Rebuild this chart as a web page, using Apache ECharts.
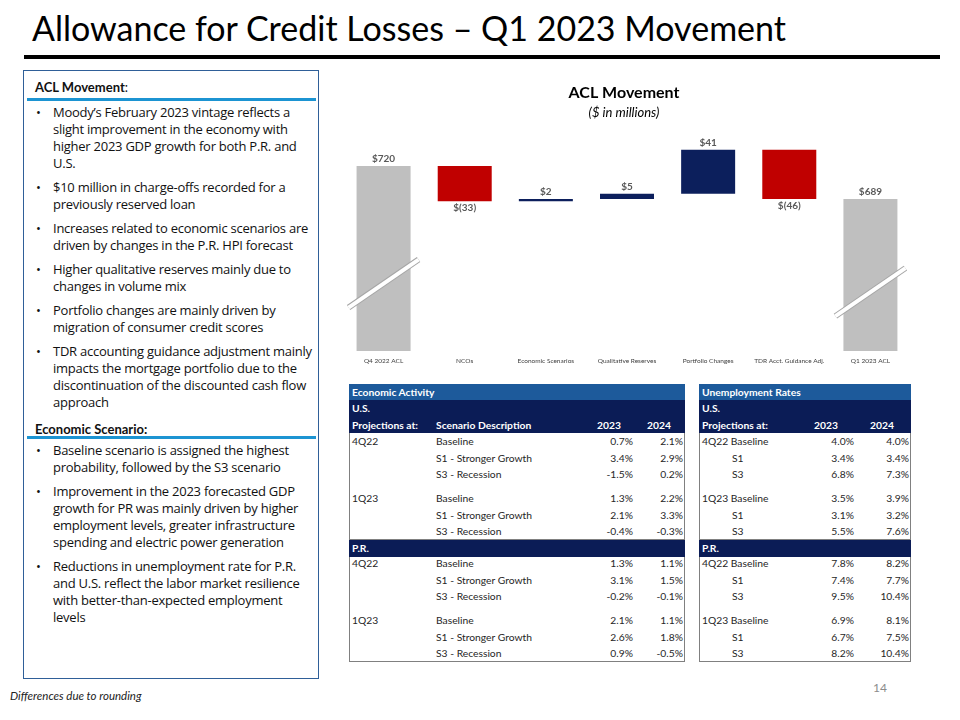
<!DOCTYPE html>
<html>
<head>
<meta charset="utf-8">
<title>ACL Movement</title>
<script src="https://cdn.jsdelivr.net/npm/echarts@6.0.0/dist/echarts.min.js"></script>
<style>
    body { margin: 0; background: #fff; }
    #page { position: relative; width: 960px; height: 720px; overflow: hidden; font-family: Lato, sans-serif; color: #000; }
    .abs { position: absolute; white-space: nowrap; }
    #title { left: 32px; top: 8px; font-size: 34px; line-height: 40px; color: #000; }
    #rule { left: 24px; top: 55px; width: 916px; height: 4px; background: #000; }
    #box { left: 23px; top: 70px; width: 294px; height: 607px; border: 1.5px solid #2f5f98; }
    .hdr { font-weight: bold; font-size: 13px; line-height: 15px; color: #111; }
    .blue { height: 3px; background: #1c94d2; left: 27px; width: 289px; }
    .list { left: 36px; font-family: "Open Sans", sans-serif; font-size: 13px; letter-spacing: -0.25px; line-height: 17px; color: #111; }
    .list p { position: relative; margin: 0 0 7px 0; padding-left: 17px; }
    .list p:before { content: "\2022"; position: absolute; left: 0; top: 0; }
    #acl { left: 330px; top: 70px; width: 600px; height: 310px; }
    .cell { position: absolute; white-space: nowrap; font-size: 10.3px; line-height: 14px; height: 14px; color: #262626; }
    .band { position: absolute; left: 0; right: 0; }
    .band .cell { color: #fff; font-weight: bold; }
    .body { position: absolute; left: 0; right: 0; border: 1px solid #808080; border-top: none; box-sizing: border-box; }
    #pagenum { left: 873px; top: 680px; font-size: 12px; color: #8c8c8c; }
    #foot { left: 10px; top: 689px; font-size: 11.5px; font-style: italic; color: #222; }
</style>
</head>
<body>
<div id="page">
    <div id="title" class="abs">Allowance for Credit Losses – Q1 2023 Movement</div>
    <div id="rule" class="abs"></div>
    <div id="box" class="abs"></div>

    <div class="abs hdr" style="left:35px; top:80px;">ACL Movement<span style="font-weight:normal">:</span></div>
    <div class="abs blue" style="top:98px;"></div>
    <div class="abs list" style="top:104px;">
        <p>Moody’s February 2023 vintage reflects a<br>slight improvement in the economy with<br>higher 2023 GDP growth for both P.R. and<br>U.S.</p>
        <p>$10 million in charge-offs recorded for a<br>previously reserved loan</p>
        <p>Increases related to economic scenarios are<br>driven by changes in the P.R. HPI forecast</p>
        <p>Higher qualitative reserves mainly due to<br>changes in volume mix</p>
        <p>Portfolio changes are mainly driven by<br>migration of consumer credit scores</p>
        <p>TDR accounting guidance adjustment mainly<br>impacts the mortgage portfolio due to the<br>discontinuation of the discounted cash flow<br>approach</p>
    </div>

    <div class="abs hdr" style="left:35px; top:422px;">Economic Scenario:</div>
    <div class="abs blue" style="top:436px;"></div>
    <div class="abs list" style="top:442px;">
        <p>Baseline scenario is assigned the highest<br>probability, followed by the S3 scenario</p>
        <p>Improvement in the 2023 forecasted GDP<br>growth for PR was mainly driven by higher<br>employment levels, greater infrastructure<br>spending and electric power generation</p>
        <p>Reductions in unemployment rate for P.R.<br>and U.S. reflect the labor market resilience<br>with better-than-expected employment<br>levels</p>
    </div>

    <div id="acl" class="abs"></div>
    <div id="econTable" class="abs" style="left:349px; top:384px; width:336px; height:280px;"></div>
    <div id="unempTable" class="abs" style="left:699px; top:384px; width:212px; height:280px;"></div>

    <div id="pagenum" class="abs">14</div>
    <div id="foot" class="abs">Differences due to rounding</div>
</div>

<script>
// waterfall data
var categories = ['Q4 2022 ACL', 'NCOs', 'Economic Scenarios', 'Qualitative Reserves',
    'Portfolio Changes', 'TDR Acct. Guidance Adj.', 'Q1 2023 ACL'];
var movements = [720, -33, 2, 5, 41, -46, 689];
var isTotal = [true, false, false, false, false, false, true];

// table data
var years = ['2023', '2024'];
var vintages = ['4Q22', '1Q23'];
var gdpScenarios = ['Baseline', 'S1 - Stronger Growth', 'S3 - Recession'];
var unempScenarios = ['Baseline', 'S1', 'S3'];
var usGdp2023 = [0.7, 3.4, -1.5, 1.3, 2.1, -0.4];
var usGdp2024 = [2.1, 2.9, 0.2, 2.2, 3.3, -0.3];
var prGdp2023 = [1.3, 3.1, -0.2, 2.1, 2.6, 0.9];
var prGdp2024 = [1.1, 1.5, -0.1, 1.1, 1.8, -0.5];
var usUnemp2023 = [4.0, 3.4, 6.8, 3.5, 3.1, 5.5];
var usUnemp2024 = [4.0, 3.4, 7.3, 3.9, 3.2, 7.6];
var prUnemp2023 = [7.8, 7.4, 9.5, 6.9, 6.7, 8.2];
var prUnemp2024 = [8.2, 7.7, 10.4, 8.1, 7.5, 10.4];

var GRAY = '#bfbfbf', NAVY = '#0c1f5c', RED = '#c00000';

// 瀑布图：透明底座 + 可见柱
var baseVals = [], barVals = [], running = 0;
movements.forEach(function (v, i) {
    if (isTotal[i]) {
        baseVals.push(0);
        barVals.push(v);
        running = v;
    } else if (v >= 0) {
        baseVals.push(running);
        barVals.push(v);
        running += v;
    } else {
        running += v;
        baseVals.push(running);
        barVals.push(-v);
    }
});

function money(v) {
    return v < 0 ? '$(' + (-v) + ')' : '$' + v;
}

var aclChart = echarts.init(document.getElementById('acl'));
var option = {
    animation: false,
    textStyle: { fontFamily: 'Lato' },
    title: {
        text: 'ACL Movement',
        subtext: '($ in millions)',
        left: 289,
        textAlign: 'center',
        top: 10,
        itemGap: 5,
        textStyle: { fontSize: 16, fontWeight: 'bold', color: '#000', fontFamily: 'Lato' },
        subtextStyle: { fontSize: 13, fontStyle: 'italic', color: '#000', fontFamily: 'Lato' }
    },
    grid: { left: 13, right: 19, top: 67, bottom: 29 },
    xAxis: {
        type: 'category',
        data: categories,
        axisLine: { show: false },
        axisTick: { show: false },
        axisLabel: { interval: 0, fontSize: 6.5, color: '#404040', margin: 6 }
    },
    yAxis: { type: 'value', min: 547, max: 747, show: false, splitLine: { show: false } },
    series: [
        {
            type: 'bar',
            stack: 'acl',
            data: baseVals,
            barWidth: 54,
            itemStyle: { color: 'transparent' },
            silent: true
        },
        {
            type: 'bar',
            stack: 'acl',
            barWidth: 54,
            data: barVals.map(function (v, i) {
                var down = !isTotal[i] && movements[i] < 0;
                return {
                    value: v,
                    itemStyle: { color: isTotal[i] ? GRAY : (down ? RED : NAVY) },
                    label: { position: down ? 'bottom' : 'top' }
                };
            }),
            label: {
                show: true,
                distance: 2,
                fontSize: 10,
                fontWeight: 'bold',
                color: '#595959',
                formatter: function (p) { return money(movements[p.dataIndex]); }
            }
        }
    ]
};
aclChart.setOption(option);

// axis break marks on the two total bars
function breakMark(idx, val) {
    var x = aclChart.convertToPixel({ xAxisIndex: 0 }, idx);
    var y = aclChart.convertToPixel({ yAxisIndex: 0 }, val);
    var shape = { x1: x - 35, y1: y + 24, x2: x + 35, y2: y - 24 };
    return [
        { type: 'line', z: 100, shape: shape, style: { stroke: '#a6a6a6', lineWidth: 6 } },
        { type: 'line', z: 101, shape: shape, style: { stroke: '#fff', lineWidth: 4 } }
    ];
}
aclChart.setOption({ graphic: breakMark(0, 610).concat(breakMark(6, 602)) });

// tables
function cell(parent, text, top, pos) {
    var d = document.createElement('div');
    d.className = 'cell';
    d.textContent = text;
    d.style.top = (top - 7) + 'px';
    if (pos.left != null) d.style.left = pos.left + 'px';
    if (pos.right != null) { d.style.right = pos.right + 'px'; d.style.textAlign = 'right'; }
    parent.appendChild(d);
}
function band(parent, top, height, color) {
    var b = document.createElement('div');
    b.className = 'band';
    b.style.top = top + 'px';
    b.style.height = height + 'px';
    b.style.background = color;
    parent.appendChild(b);
    return b;
}
function pct(v) {
    return v.toFixed(1) + '%';
}

function buildTable(id, cfg) {
    var t = document.getElementById(id);
    var head = band(t, 0, 16, '#1d5a9b');
    cell(head, cfg.title, 8, { left: 3 });
    var navy = band(t, 16, 33, '#0b1c56');
    cell(navy, 'U.S.', 8, { left: 3 });
    cfg.header.forEach(function (h) { cell(navy, h[0], 25, h[1]); });
    var pr = band(t, 156, 17, '#0b1c56');
    cell(pr, 'P.R.', 8, { left: 3 });

    [[49, 107, 57, cfg.us], [173, 105, 179, cfg.pr]].forEach(function (s) {
        var body = document.createElement('div');
        body.className = 'body';
        body.style.top = s[0] + 'px';
        body.style.height = s[1] + 'px';
        t.appendChild(body);
        for (var k = 0; k < 6; k++) {
            var g = Math.floor(k / 3), r = k % 3;
            var y = s[2] + k * 16.5 + g * 7.5;
            cfg.labels(g, r).forEach(function (l) { cell(t, l[0], y, l[1]); });
            cell(t, pct(s[3][0][k]), y, { right: cfg.numRight[0] });
            cell(t, pct(s[3][1][k]), y, { right: cfg.numRight[1] });
        }
    });
}

buildTable('econTable', {
    title: 'Economic Activity',
    header: [['Projections at:', { left: 3 }], ['Scenario Description', { left: 87 }],
        [years[0], { right: 64 }], [years[1], { right: 14 }]],
    numRight: [52, 2],
    us: [usGdp2023, usGdp2024],
    pr: [prGdp2023, prGdp2024],
    labels: function (g, r) {
        var out = [[gdpScenarios[r], { left: 87 }]];
        if (r === 0) out.push([vintages[g], { left: 3 }]);
        return out;
    }
});

buildTable('unempTable', {
    title: 'Unemployment Rates',
    header: [['Projections at:', { left: 3 }], [years[0], { right: 73 }], [years[1], { right: 17 }]],
    numRight: [57, 2],
    us: [usUnemp2023, usUnemp2024],
    pr: [prUnemp2023, prUnemp2024],
    labels: function (g, r) {
        if (r === 0) return [[vintages[g] + ' ' + unempScenarios[0], { left: 3 }]];
        return [[unempScenarios[r], { left: 33 }]];
    }
});
</script>
</body>
</html>
